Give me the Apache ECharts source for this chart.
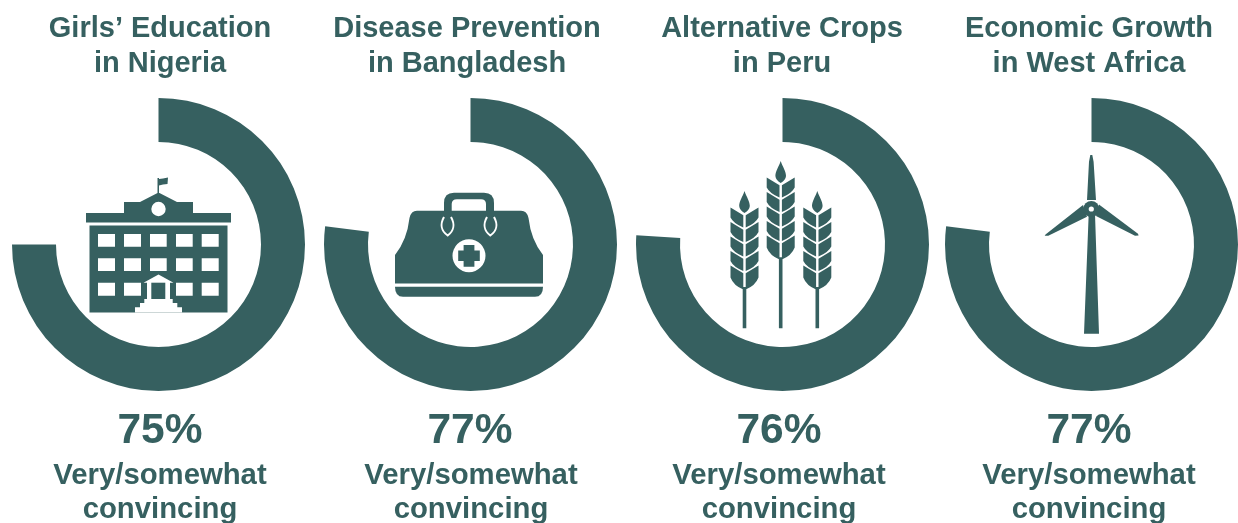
<!DOCTYPE html>
<html><head><meta charset="utf-8">
<style>html,body{margin:0;padding:0;background:#fff;overflow:hidden}#c{width:1238px;height:523px}</style>
<script src="https://cdn.jsdelivr.net/npm/echarts@6/dist/echarts.min.js"></script>
</head><body><div id="c"></div>
<script>
const titles = ["Girls\u2019 Education\nin Nigeria","Disease Prevention\nin Bangladesh","Alternative Crops\nin Peru","Economic Growth\nin West Africa"];
const percents = [75,77,76,77];
const caption = "Very/somewhat\nconvincing";

const GREEN = "#366060", WHITE = "#ffffff", FONT = "'Liberation Sans',Arial,sans-serif";
const ringX = [158.5,470.5,782.5,1091.5], ringY = 244.5;
const titleX = [160,467,782,1089], pctX = [160,470,779,1089], capX = [160,471,779,1089];

const rect=(x0,y0,x1,y1)=>`M${x0} ${y0}L${x1} ${y0}L${x1} ${y1}L${x0} ${y1}Z`;
const dark=d=>({type:'path',silent:true,shape:{pathData:d},style:{fill:GREEN}});
const light=d=>({type:'path',silent:true,shape:{pathData:d},style:{fill:WHITE}});
const circ=(cx,cy,r,fill)=>({type:'circle',silent:true,shape:{cx,cy,r},style:{fill}});

function school(){
  const out=[dark(rect(86,213,231,222.5)+
    "M124 213L124 202L140 202L158.5 192.5L177 202L193 202L193 213Z"+
    "M157.5 178L159 178L159 193L157.5 193Z"+
    "M159 179L163 178.5L168 177.5L167.5 184L163 184.5L159 185.5Z"+
    rect(89.5,225.5,227.5,312.5))];
  out.push(circ(158.5,209,7.2,WHITE));
  let w="";
  const xs=[[98,115],[124,141],[150,166.7],[176,192.7],[201.7,218.7]],ys=[[234,246.7],[258.3,271],[282.7,295.7]];
  ys.forEach((y,r)=>xs.forEach((x,c)=>{ if(!(r===2&&c===2)) w+=rect(x[0],y[0],x[1],y[1]); }));
  w+="M158.5 274.5L173.5 282.7L143.5 282.7Z"+rect(147,282.7,170,299)+
     rect(144.3,299,172.7,303.2)+rect(140,303,177.3,307.4)+rect(135,307.2,182,312.6);
  out.push(light(w));
  out.push(dark(rect(151.3,282.7,165.3,299)));
  return out;
}
function bag(){
  const out=[];
  out.push(dark("M444 211L444 203Q444 192.7 454 192.7L484 192.7Q494 192.7 494 203L494 211L486 211L486 204Q486 199.3 481 199.3L457 199.3Q451.7 199.3 451.7 204L451.7 211Z"));
  out.push(dark("M417 210.7L521 210.7Q527 210.7 528.5 218Q531 240 543 255L543 283.5L395 283.5L395 255Q407 240 409.5 218Q411 210.7 417 210.7Z"));
  out.push(dark("M395 286.8L543 286.8Q543 296.8 535 296.8L403 296.8Q395 296.8 395 286.8Z"));
  out.push(circ(469,255.7,16.5,WHITE));
  out.push(dark(rect(463.6,245,474.4,266.7)+rect(458.2,250.5,479.8,261)));
  ["M444 217C440 224 441 231 447.7 235.5C454 231 455 224 451 217","M487 217C483 224 484 231 490.3 235.5C497 231 498 224 494 217"].forEach(d=>{
    out.push({type:'path',silent:true,shape:{pathData:d},style:{fill:'none',stroke:WHITE,lineWidth:2}});
  });
  return out;
}
function wheat(cx,tip,stemTop){
  let d=`M${cx} ${tip}C${cx+2} ${tip+6} ${cx+5.3} ${tip+10} ${cx+5.3} ${tip+15}Q${cx+5} ${tip+19} ${cx} ${tip+22}Q${cx-5} ${tip+19} ${cx-5.3} ${tip+15}C${cx-5.3} ${tip+10} ${cx-2} ${tip+6} ${cx} ${tip}Z`;
  for(let i=0;i<5;i++){
    const y=tip+16.5+i*14.5, b=i===4?24:20, o=i===4?12:10;
    d+=`M${cx+1.2} ${y+7.7}L${cx+14} ${y}L${cx+14} ${y+o}Q${cx+11} ${y+b-4} ${cx+1.2} ${y+b}Z`;
    d+=`M${cx-1.2} ${y+7.7}L${cx-1.2} ${y+b}Q${cx-11} ${y+b-4} ${cx-14} ${y+o}L${cx-14} ${y}Z`;
  }
  d+=rect(cx-1.8,stemTop,cx+1.8,328.3);
  return [dark(d)];
}
function turbine(){
  return [
    dark("M1090.3 155L1092.3 155L1093.6 161.7L1096 200L1087 200L1089 161.7Z"+
         "M1083 205L1087 216.7L1048.3 235.8L1044.7 235.8L1045.5 234.5Z"+
         "M1099 204.5L1138 233.8L1138.6 235.6L1135 235.8L1096 216Z"+
         "M1088.7 214L1095 214L1099 333.7L1084 333.7Z"),
    circ(1091.3,209,8,GREEN),
    circ(1091.3,209,2.6,WHITE)
  ];
}

const series=percents.map((p,i)=>({
  type:'pie',silent:true,animation:false,clockwise:true,startAngle:90,
  center:[ringX[i],ringY],radius:[102.5,146.5],
  label:{show:false},labelLine:{show:false},
  data:[{value:p,itemStyle:{color:GREEN}},{value:100-p,itemStyle:{color:'transparent'}}]
}));
const title=[];
titles.forEach((t,i)=>{
  title.push({text:t,left:titleX[i],top:11.5,padding:0,textAlign:'center',textStyle:{fontFamily:FONT,fontWeight:'bold',fontSize:29,lineHeight:35,color:GREEN}});
  title.push({text:percents[i]+"%",left:pctX[i],top:404,padding:0,textAlign:'center',textStyle:{fontFamily:FONT,fontWeight:'bold',fontSize:42.5,lineHeight:54,color:GREEN}});
  title.push({text:caption,left:capX[i],top:459,padding:0,textAlign:'center',textStyle:{fontFamily:FONT,fontWeight:'bold',fontSize:29.3,lineHeight:34,color:GREEN}});
});
const icons=[...school(),...bag(),...wheat(744.5,191,287),...wheat(780.7,161,257.3),...wheat(817.3,191,287),...turbine()];
series.push({type:'custom',silent:true,animation:false,coordinateSystem:'none',data:[0],
  renderItem:()=>({type:'group',children:icons})});
const chart=echarts.init(document.getElementById('c'),null,{renderer:'canvas'});
chart.setOption({animation:false,backgroundColor:'#fff',title,series});
</script></body></html>
